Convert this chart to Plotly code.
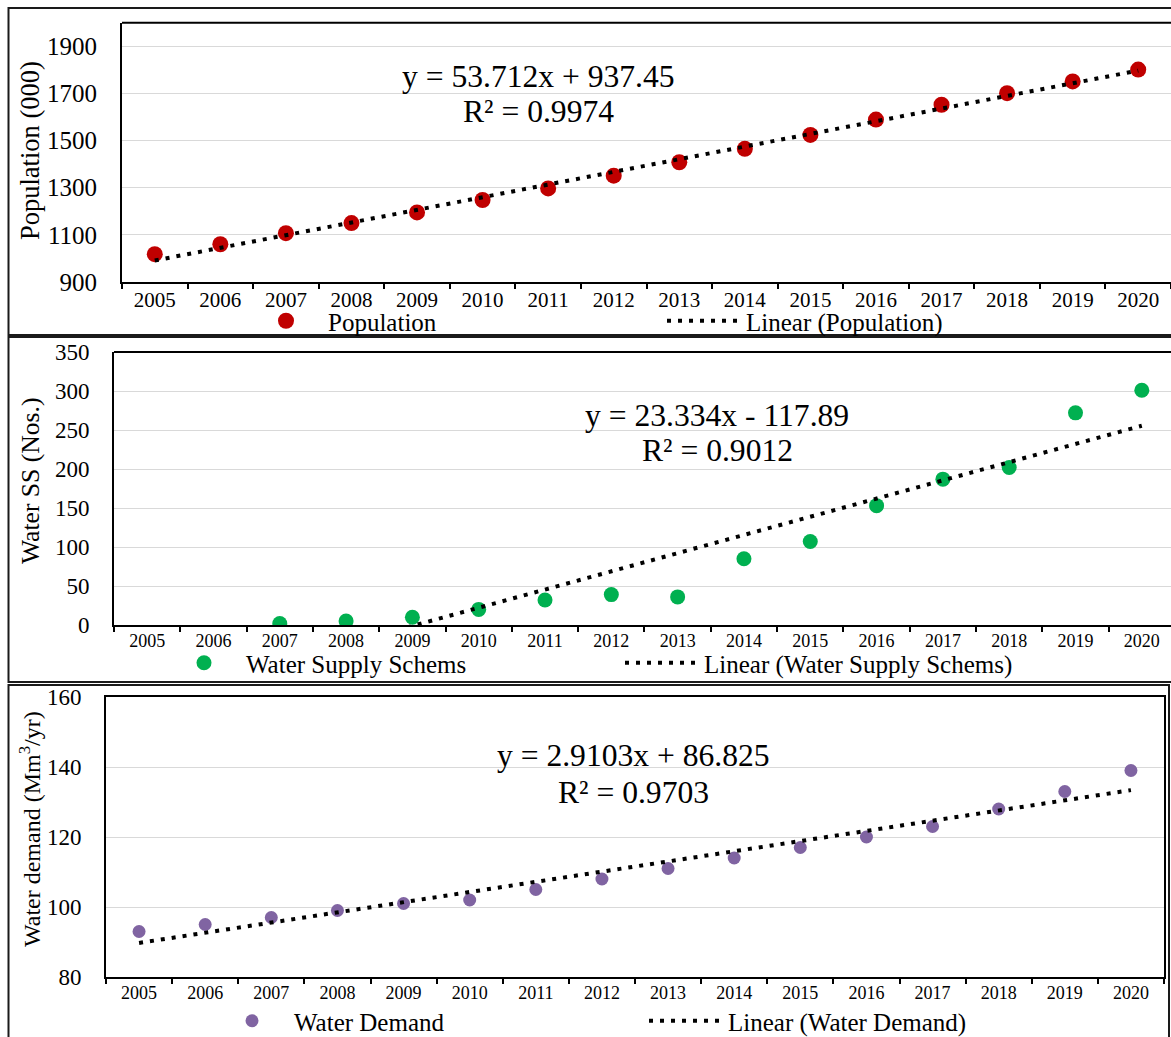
import plotly.graph_objects as go

# ---------------- data ----------------
years = ["2005", "2006", "2007", "2008", "2009", "2010", "2011", "2012",
         "2013", "2014", "2015", "2016", "2017", "2018", "2019", "2020"]

population = [1018, 1060, 1107, 1150, 1195, 1248, 1297, 1351,
              1408, 1465, 1524, 1589, 1652, 1701, 1751, 1801]
water_ss = [None, None, 2, 5, 10, 20, 32, 39,
            36, 85, 107, 153, 187, 202, 272, 301]
water_demand = [93, 95, 97, 99, 101, 102, 105, 108,
                 111, 114, 117, 120, 123, 128, 133, 139]

# Excel linear trendline equations shown on the chart
pop_fit = [53.712, 937.45]
ss_fit = [23.334, -117.89]
wd_fit = [2.9103, 86.825]
pop_eq = ["y = 53.712x + 937.45", "R² = 0.9974"]
ss_eq = ["y = 23.334x - 117.89", "R² = 0.9012"]
wd_eq = ["y = 2.9103x + 86.825", "R² = 0.9703"]


def trend(fit, values):
    # trendline evaluated at Excel's category index (1..n) where data exist
    xs, ys = [], []
    for i, v in enumerate(values):
        if v is not None:
            xs.append(years[i])
            ys.append(fit[0] * (i + 1) + fit[1])
    return xs, ys


# ---------------- layout helpers ----------------
W, H = 1171, 1037
FONT = "Liberation Serif"


def fx(p):
    return p / W


def fy(p):
    return 1 - p / H


fig = go.Figure()

RED = "#C00000"
GREEN = "#00B050"
PURPLE = "#8064A2"
DOT = dict(color="black", width=4, dash="4px,7px")

# Panel 1
fig.add_trace(go.Scatter(x=years, y=population, mode="markers", name="Population",
                         marker=dict(color=RED, size=16), xaxis="x", yaxis="y",
                         legend="legend"))
tx, ty = trend(pop_fit, population)
fig.add_trace(go.Scatter(x=tx, y=ty, mode="lines", name="Linear (Population)",
                         line=DOT, xaxis="x", yaxis="y", legend="legend"))

# Panel 2
fig.add_trace(go.Scatter(x=years, y=water_ss, mode="markers", name="Water Supply Schems",
                         marker=dict(color=GREEN, size=15), xaxis="x2", yaxis="y2",
                         legend="legend2"))
tx, ty = trend(ss_fit, water_ss)
fig.add_trace(go.Scatter(x=tx, y=ty, mode="lines", name="Linear (Water Supply Schems)",
                         line=DOT, xaxis="x2", yaxis="y2", legend="legend2"))

# Panel 3
fig.add_trace(go.Scatter(x=years, y=water_demand, mode="markers", name="Water Demand",
                         marker=dict(color=PURPLE, size=13), xaxis="x3", yaxis="y3",
                         legend="legend3"))
tx, ty = trend(wd_fit, water_demand)
fig.add_trace(go.Scatter(x=tx, y=ty, mode="lines", name="Linear (Water Demand)",
                         line=DOT, xaxis="x3", yaxis="y3", legend="legend3"))


def xax(domain, anchor, size, mirror, rng):
    return dict(domain=domain, anchor=anchor, type="category", range=rng,
                tickson="boundaries", ticks="outside", ticklen=5, tickwidth=1.5,
                tickcolor="black", showline=True, linecolor="black", linewidth=2,
                mirror=mirror, showgrid=False, zeroline=False, automargin=False,
                ticklabelstandoff=-2,
                tickfont=dict(family=FONT, size=size, color="black"), fixedrange=True)


def yax(domain, anchor, rng, dtick, size, mirror):
    return dict(domain=domain, anchor=anchor, range=rng, dtick=dtick, tick0=rng[0],
                showgrid=True, gridcolor="#D9D9D9", gridwidth=1, showline=True,
                linecolor="black", linewidth=2, mirror=mirror, zeroline=False,
                ticks="", ticklabelstandoff=18, automargin=False,
                tickfont=dict(family=FONT, size=size, color="black"), fixedrange=True)


def leg(x, y, ew):
    return dict(orientation="h", x=fx(x), xanchor="left", y=fy(y), yanchor="middle",
                itemwidth=74, entrywidth=ew, entrywidthmode="pixels",
                font=dict(family=FONT, size=25, color="black"),
                bgcolor="rgba(0,0,0,0)", borderwidth=0, itemclick=False,
                itemdoubleclick=False)


p1x = [fx(122), 1.0]
p1y = [fy(282), fy(22.7)]
p2x = [fx(114), 1.0]
p2y = [fy(625), fy(352)]
p3x = [fx(106), fx(1164)]
p3y = [fy(977), fy(697)]

annotations = []
for eq, (cx, l1, l2) in [(pop_eq, (538, 77, 112)), (ss_eq, (717, 415, 451)),
                         (wd_eq, (633, 755, 792))]:
    annotations.append(dict(x=fx(cx), y=fy(l1), xref="paper", yref="paper", text=eq[0],
                            showarrow=False, xanchor="center", yanchor="middle",
                            font=dict(family=FONT, size=31.6, color="black")))
    annotations.append(dict(x=fx(cx), y=fy(l2), xref="paper", yref="paper", text=eq[1],
                            showarrow=False, xanchor="center", yanchor="middle",
                            font=dict(family=FONT, size=31.6, color="black")))

for txt, cy, sz in [("Population (000)", 151, 26.5), ("Water SS (Nos.)", 481, 25.6),
                    ("Water demand (Mm<sup>3</sup>/yr)", 829, 24)]:
    annotations.append(dict(x=fx(30), y=fy(cy), xref="paper", yref="paper", text=txt,
                            showarrow=False, textangle=-90, xanchor="center",
                            yanchor="middle", font=dict(family=FONT, size=sz, color="black")))

shapes = [
    # top borders of the first two plot areas (right side is cut off)
    dict(type="line", xref="paper", yref="paper", x0=p1x[0], x1=1.0, y0=p1y[1], y1=p1y[1],
         line=dict(color="black", width=2)),
    dict(type="line", xref="paper", yref="paper", x0=p2x[0], x1=1.0, y0=p2y[1], y1=p2y[1],
         line=dict(color="black", width=2)),
    # outer frames of the three panels
    dict(type="rect", xref="paper", yref="paper", x0=fx(8.5), x1=fx(1185), y0=fy(8), y1=fy(335),
         line=dict(color="#1a1a1a", width=2)),
    dict(type="rect", xref="paper", yref="paper", x0=fx(8.5), x1=fx(1185), y0=fy(337), y1=fy(682),
         line=dict(color="#1a1a1a", width=2)),
    dict(type="rect", xref="paper", yref="paper", x0=fx(8.5), x1=fx(1169), y0=fy(685), y1=fy(1050),
         line=dict(color="#1a1a1a", width=2)),
]

fig.update_layout(
    width=W, height=H, margin=dict(l=0, r=0, t=0, b=0, autoexpand=False), autosize=False,
    paper_bgcolor="white", plot_bgcolor="white",
    font=dict(family=FONT, color="black"),
    xaxis=xax(p1x, "y", 21, False, [-0.5, 15.5]),
    yaxis=yax(p1y, "x", [900, 2000], 200, 25, False),
    xaxis2=xax(p2x, "y2", 18, False, [-0.5, 15.44]),
    yaxis2=yax(p2y, "x2", [0, 350], 50, 23, False),
    xaxis3=xax(p3x, "y3", 18, True, [-0.5, 15.5]),
    yaxis3=yax(p3y, "x3", [80, 160], 20, 23, True),
    legend=leg(244, 321, 329),
    legend2=leg(162, 663, 369),
    legend3=leg(210, 1021, 345),
    annotations=annotations,
    shapes=shapes,
    showlegend=True,
)

fig.write_html("out.html", post_script="document.body.style.margin='0px';",
               config={"displayModeBar": False})
